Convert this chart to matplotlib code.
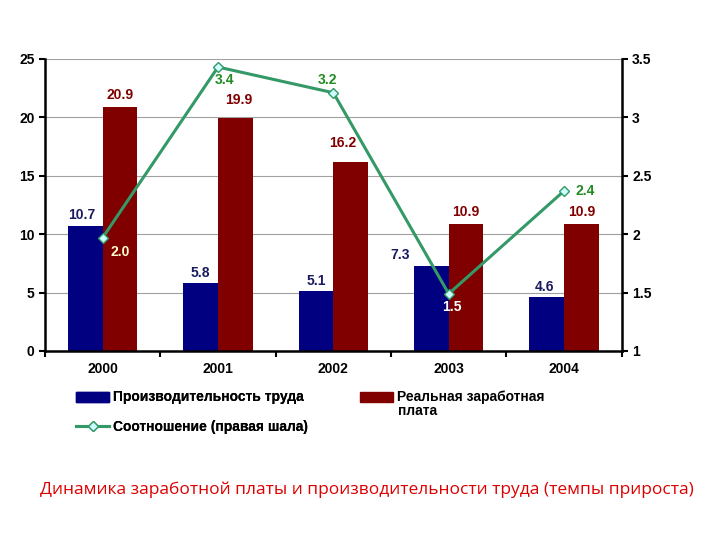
import numpy as np
import matplotlib
matplotlib.use("Agg")
from matplotlib import pyplot as plt
from matplotlib.patches import Patch
from matplotlib.lines import Line2D

years = ["2000", "2001", "2002", "2003", "2004"]
productivity = [10.7, 5.8, 5.1, 7.3, 4.6]
real_wage = [20.9, 19.9, 16.2, 10.9, 10.9]
ratio = [1.97, 3.43, 3.21, 1.49, 2.37]
ratio_labels = ["2.0", "3.4", "3.2", "1.5", "2.4"]

plt.rcParams['font.family'] = ['Liberation Sans', 'DejaVu Sans']

fig = plt.figure(figsize=(7.2, 5.4), dpi=100)
ax = fig.add_axes([0.0625, 0.35, 0.801, 0.541])
x = np.arange(len(years))
w = 0.3

ax.bar(x - w / 2, productivity, w, color="#000080", zorder=2)
ax.bar(x + w / 2, real_wage, w, color="#800000", zorder=2)
ax.set_xlim(-0.5, 4.5)
ax.set_ylim(0, 25)
ax.set_yticks(range(0, 26, 5))
ax.yaxis.grid(True, color="#a0a0a0", lw=0.8, zorder=0)
ax.set_xticks(x)
ax.set_xticklabels(years, fontweight="bold", fontsize=10)
ax.set_xticks(np.arange(-0.5, 5, 1), minor=True)
ax.tick_params(axis="x", which="major", length=0, pad=8)
ax.tick_params(axis="x", which="minor", length=4, width=1.5, direction="out")
ax.tick_params(axis="y", labelsize=10, width=1.5, length=4)
for t in ax.get_yticklabels():
    t.set_fontweight("bold")
ax.spines["top"].set_visible(False)
ax.spines["right"].set_visible(False)
for s in ["left", "bottom"]:
    ax.spines[s].set_linewidth(1.8)

# bar labels
blue_dx = [-0.03, 0.0, 0.0, -0.27, -0.02]
for i, v in enumerate(productivity):
    ax.text(x[i] - w / 2 + blue_dx[i], v + 0.3, f"{v:.1f}", ha="center", va="bottom",
            color="#1a1a5e", fontsize=10, fontweight="bold")
red_dx = [0.0, 0.03, -0.07, 0.0, 0.0]
red_dy = [0.4, 1.0, 1.0, 0.4, 0.4]
for i, v in enumerate(real_wage):
    ax.text(x[i] + w / 2 + red_dx[i], v + red_dy[i], f"{v:.1f}", ha="center", va="bottom",
            color="#800000", fontsize=10, fontweight="bold")

ax2 = ax.twinx()
ax2.set_ylim(1, 3.5)
ax2.set_yticks([1, 1.5, 2, 2.5, 3, 3.5])
ax2.set_yticklabels(["1", "1.5", "2", "2.5", "3", "3.5"], fontweight="bold", fontsize=10)
ax2.tick_params(axis="y", width=1.5, length=4)
ax2.spines["top"].set_visible(False)
ax2.spines["left"].set_visible(False)
ax2.spines["bottom"].set_visible(False)
ax2.spines["right"].set_linewidth(1.8)
ax2.plot(x, ratio, color="#339966", lw=2.2, marker="D", ms=5,
         mfc="#ccffff", mec="#339966", mew=1, zorder=3)

lab_off = [(0.15, -0.12), (0.06, -0.11), (-0.05, 0.11), (0.03, -0.11), (0.18, 0.0)]
lab_col = ["#ffffcc", "#228b22", "#228b22", "#ffffff", "#228b22"]
for i, v in enumerate(ratio):
    dx, dy = lab_off[i]
    ax2.text(x[i] + dx, v + dy, ratio_labels[i], ha="center", va="center",
             color=lab_col[i], fontsize=10, fontweight="bold")

leg_font = {"weight": "bold", "size": 10}
h_blue = Patch(color="#000080")
h_line = Line2D([0], [0], color="#339966", lw=2.2, marker="D", ms=5,
                mfc="#ccffff", mec="#339966")
h_red = Patch(color="#800000")
leg1 = fig.legend([h_blue, h_line], ["Производительность труда", "Соотношение (правая шала)"],
                  loc="upper left", bbox_to_anchor=(0.088, 0.3), frameon=False,
                  handlelength=2.4, handletextpad=0.3, labelspacing=1.1, prop=leg_font)
fig.legend([h_red], ["Реальная заработная"], loc="upper left",
           bbox_to_anchor=(0.482, 0.3), frameon=False, handlelength=2.4,
           handletextpad=0.3, prop=leg_font)
fig.add_artist(leg1)
fig.text(0.553, 0.238, "плата", ha="left", va="center", **leg_font)

fig.text(0.51, 0.093, "Динамика заработной платы и производительности труда (темпы прироста)",
         ha="center", va="center", color="#dd0000", fontsize=12.5,
         family=["Open Sans", "DejaVu Sans"])

fig.savefig("out.png", dpi=100)
